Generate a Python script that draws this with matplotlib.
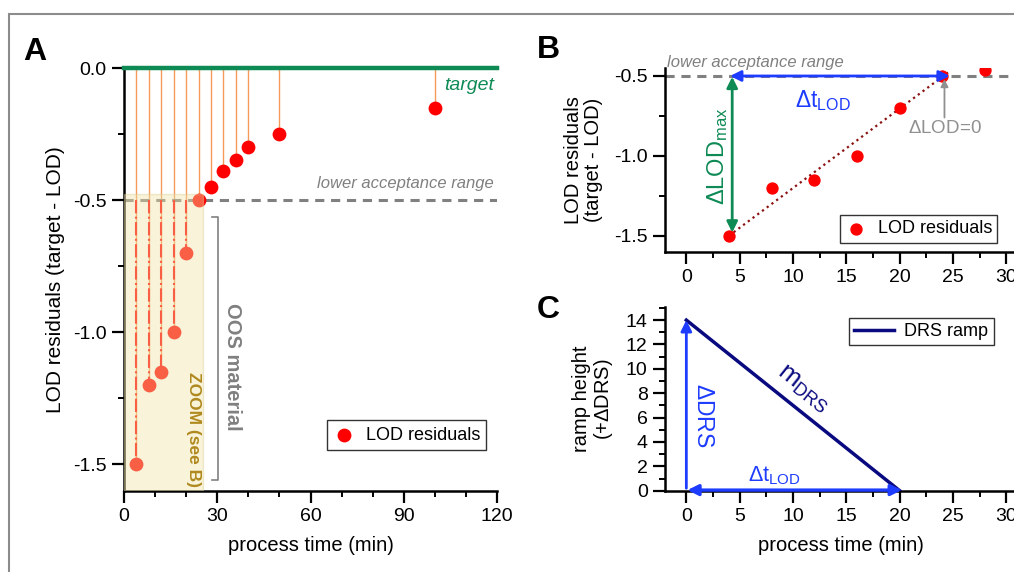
import numpy as np
import matplotlib.pyplot as plt
from matplotlib.patches import Rectangle
from matplotlib.ticker import MultipleLocator

plt.rcParams['font.family'] = ['Liberation Sans', 'DejaVu Sans']
plt.rcParams['font.size'] = 14
plt.rcParams['mathtext.fontset'] = 'custom'
plt.rcParams['mathtext.rm'] = 'Liberation Sans'
plt.rcParams['mathtext.it'] = 'Liberation Sans:italic'

# data
t_all = [4, 8, 12, 16, 20, 24, 28, 32, 36, 40, 50, 100]
res_all = [-1.5, -1.2, -1.15, -1.0, -0.7, -0.5, -0.45, -0.39, -0.35, -0.30, -0.25, -0.15]
t_zoom = [4, 8, 12, 16, 20, 24, 28]
res_zoom = [-1.5, -1.2, -1.15, -1.0, -0.7, -0.5, -0.46]
lower_limit = -0.5
fit_t = [4, 24.7]
fit_res = [-1.5, -0.47]
ramp_t = [0, 20]
ramp_h = [14, 0]

RED = '#ff0000'
ORANGE = '#f59a5a'
GREEN = '#0e8a55'
GRAY = '#808080'
BLUE = '#1e3cff'
NAVY = '#0a0a80'
W, H = 1014, 572

fig = plt.figure(figsize=(W / 100, H / 100), dpi=100)
fig.patches.append(Rectangle((9 / W, -0.1), 1.2, 1 - 14 / H + 0.1, transform=fig.transFigure,
                             fill=False, edgecolor='#8c8c8c', lw=1.5))


def style(ax):
    for s in ['top', 'right']:
        ax.spines[s].set_visible(False)
    for s in ['left', 'bottom']:
        ax.spines[s].set_linewidth(1.8)
    ax.tick_params(which='major', direction='out', length=8.5, width=1.6, labelsize=14, pad=4)
    ax.tick_params(which='minor', direction='out', length=4.5, width=1.4)


# ---- panel A ----
axA = fig.add_axes([124 / W, 81.3 / H, 373 / W, 422.7 / H])
style(axA)
axA.set_xlim(0, 120)
axA.set_ylim(-1.6, 0.0)
axA.xaxis.set_major_locator(MultipleLocator(30))
axA.xaxis.set_minor_locator(MultipleLocator(10))
axA.yaxis.set_major_locator(MultipleLocator(0.5))
axA.yaxis.set_minor_locator(MultipleLocator(0.25))
axA.yaxis.set_major_formatter(lambda v, p: f'{v:.1f}')

for t, r in zip(t_all, res_all):
    axA.plot([t, t], [0, r], color=ORANGE, lw=1, zorder=2)
    if r < lower_limit:
        axA.plot([t, t], [lower_limit, r], color=RED, lw=1.5, ls='-.', zorder=2.5)
axA.axhline(lower_limit, color=GRAY, lw=2.2, ls=(0, (3, 2.2)), zorder=2)
axA.scatter(t_all, res_all, s=80, color=RED, zorder=3, label='LOD residuals')
axA.plot([0, 120], [0, 0], color=GREEN, lw=3.2, clip_on=False, zorder=4)
axA.add_patch(Rectangle((0, -1.6), 25.3, 1.6 - 0.478, facecolor='#efe3a6', alpha=0.42,
                        edgecolor='#dcd096', lw=1, zorder=3.5))
axA.text(119, -0.035, 'target', color=GREEN, style='italic', fontsize=14, ha='right', va='top')
axA.text(119, -0.465, 'lower acceptance range', color=GRAY, style='italic', fontsize=12,
         ha='right', va='bottom')
# bracket
axA.plot([28.2, 30.2, 30.2, 28.2], [-0.564, -0.564, -1.56, -1.56], color=GRAY, lw=1.2)
axA.text(35.0, -1.13, 'OOS material', color=GRAY, fontsize=14.5, fontweight='bold',
         rotation=270, ha='center', va='center')
axA.text(22.2, -1.37, 'ZOOM (see B)', color='#b0891e', fontsize=12.5, fontweight='bold',
         rotation=270, ha='center', va='center', zorder=5)
axA.set_xlabel('process time (min)', fontsize=14.5, labelpad=8)
axA.set_ylabel('LOD residuals (target - LOD)', fontsize=15, labelpad=6)
axA.legend(loc='lower right', frameon=True, fancybox=False, edgecolor='black',
           handletextpad=0.6, borderpad=0.35, fontsize=13, handlelength=1.2,
           bbox_to_anchor=(0.996, 0.075)).get_frame().set_linewidth(1)

# ---- panel B ----
axB = fig.add_axes([665 / W, 320.3 / H, 352 / W, 183.7 / H])
style(axB)
axB.set_xlim(-2, 31)
axB.set_ylim(-1.6, -0.45)
axB.xaxis.set_major_locator(MultipleLocator(5))
axB.xaxis.set_minor_locator(MultipleLocator(2.5))
axB.yaxis.set_major_locator(MultipleLocator(0.5))
axB.yaxis.set_minor_locator(MultipleLocator(0.25))
axB.yaxis.set_major_formatter(lambda v, p: f'{v:.1f}')
axB.axhline(lower_limit, color=GRAY, lw=2.2, ls=(0, (3, 2.2)), zorder=1)
axB.plot(fit_t, fit_res, color='#8b1010', lw=1.6, ls=':', zorder=2)
axB.scatter(t_zoom, res_zoom, s=62, color=RED, zorder=3, label='LOD residuals')
axB.annotate('', xy=(4.1, -0.5), xytext=(24.7, -0.5),
             arrowprops=dict(arrowstyle='<|-|>', color=BLUE, lw=2, mutation_scale=16,
                             shrinkA=0, shrinkB=0), zorder=4)
axB.annotate('', xy=(4.3, -0.505), xytext=(4.3, -1.48),
             arrowprops=dict(arrowstyle='<|-|>', color=GREEN, lw=2, mutation_scale=16,
                             shrinkA=0, shrinkB=0), zorder=4)
axB.annotate('', xy=(24.2, -0.52), xytext=(24.2, -0.76),
             arrowprops=dict(arrowstyle='-|>', color='#909090', lw=1.3, mutation_scale=11,
                             shrinkA=0, shrinkB=0))
axB.text(24.2, -0.775, r'$\Delta$LOD=0', color='#909090', fontsize=13.5, ha='center', va='top')
axB.text(12.8, -0.655, r'$\Delta\mathrm{t}_{\mathrm{LOD}}$', color=BLUE, fontsize=16.5,
         ha='center', va='center')
axB.text(2.9, -1.0, r'$\Delta\mathrm{LOD}_{\mathrm{max}}$', color=GREEN, fontsize=17,
         rotation=90, ha='center', va='center')
axB.text(-1.8, -0.46, 'lower acceptance range', color=GRAY, style='italic', fontsize=12,
         ha='left', va='bottom', clip_on=False)
axB.set_ylabel('LOD residuals\n(target - LOD)', fontsize=14.5, labelpad=8, linespacing=1.05)
lgB = axB.legend(loc='lower right', frameon=True, fancybox=False, edgecolor='black',
                 handletextpad=0.6, borderpad=0.3, fontsize=13, handlelength=1.2,
                 bbox_to_anchor=(0.97, 0.0))
lgB.get_frame().set_linewidth(1)

# ---- panel C ----
axC = fig.add_axes([665 / W, 81.3 / H, 352 / W, 184 / H])
style(axC)
axC.set_xlim(-2, 31)
axC.set_ylim(0, 15.1)
axC.xaxis.set_major_locator(MultipleLocator(5))
axC.xaxis.set_minor_locator(MultipleLocator(2.5))
axC.yaxis.set_major_locator(MultipleLocator(2))
axC.yaxis.set_minor_locator(MultipleLocator(1))
axC.plot(ramp_t, ramp_h, color=NAVY, lw=2.5, label='DRS ramp', zorder=3)
axC.annotate('', xy=(0, 14), xytext=(0, 0.2),
             arrowprops=dict(arrowstyle='-|>', color=BLUE, lw=2, mutation_scale=16,
                             shrinkA=0, shrinkB=0), zorder=4)
axC.annotate('', xy=(0.1, 0.05), xytext=(20.2, 0.05),
             arrowprops=dict(arrowstyle='<|-|>', color=BLUE, lw=2.4, mutation_scale=16,
                             shrinkA=0, shrinkB=0), annotation_clip=False, zorder=4)
axC.text(1.6, 6.2, r'$\Delta$DRS', color=BLUE, fontsize=16.5, rotation=270,
         ha='center', va='center')
axC.text(11.0, 8.4, r'$\mathrm{m}_{\mathrm{DRS}}$', color=NAVY, fontsize=18.5, rotation=-38.5,
         ha='center', va='center', rotation_mode='anchor')
axC.text(8.3, 1.2, r'$\Delta\mathrm{t}_{\mathrm{LOD}}$', color=BLUE, fontsize=15.5,
         ha='center', va='center')
axC.set_xlabel('process time (min)', fontsize=14.5, labelpad=8)
axC.set_ylabel('ramp height\n(+$\\Delta$DRS)', fontsize=14.5, labelpad=8, linespacing=1.05)
lgC = axC.legend(loc='upper right', frameon=True, fancybox=False, edgecolor='black',
                 handletextpad=0.6, borderpad=0.3, fontsize=13, handlelength=2.2,
                 bbox_to_anchor=(0.96, 0.99))
lgC.get_frame().set_linewidth(1)

fig.text(23 / W, 1 - 60 / H, 'A', fontsize=23, fontweight='bold')
fig.text(537 / W, 1 - 58 / H, 'B', fontsize=23, fontweight='bold')
fig.text(537 / W, 1 - 318 / H, 'C', fontsize=23, fontweight='bold')

fig.savefig('out.png', dpi=100)
